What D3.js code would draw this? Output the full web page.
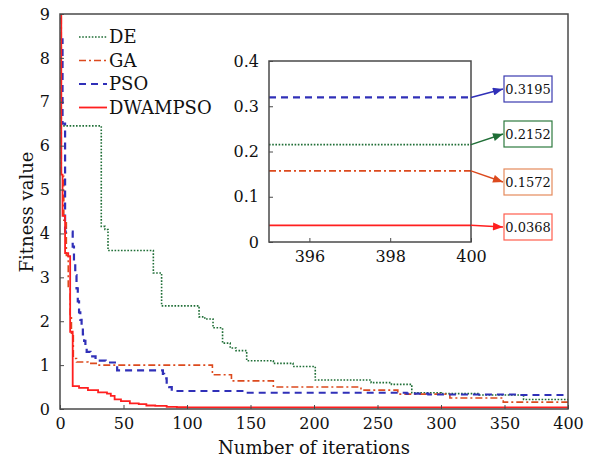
<!DOCTYPE html>
<html>
<head>
<meta charset="utf-8">
<script src="https://cdn.jsdelivr.net/npm/d3@7"></script>
<style>
  body { margin: 0; background: #fff; }
  text { font-family: "DejaVu Serif", serif; fill: #111; }
</style>
</head>
<body>
<div id="chart"></div>
<script>
// series: [iteration, fitness value], drawn as steps
var deData = [[0,6.45],[32.5,4.16],[35.4,4.09],[37.8,3.61],[73.5,3.1],[80,2.35],[109.5,2.1],[114,2.05],[120.5,1.85],[128,1.5],[134,1.39],[138.6,1.33],[147,1.1],[168,1.04],[183.5,0.97],[201,0.66],[245,0.6],[261,0.56],[277,0.37],[300,0.35],[330,0.32],[365,0.2152],[400,0.2152]];
var gaData = [[0,8.9],[1,5.3],[3,4.3],[5,3.5],[6.5,2.76],[8,2.1],[9,1.7],[10.5,1.15],[13,1.07],[22,1.04],[30,1.0],[120,0.78],[135,0.64],[168,0.5],[237,0.43],[266,0.34],[307,0.25],[349,0.1572],[400,0.1572]];
var psoData = [[0,8.42],[2,6.5],[4,4.04],[10,3.7],[11,3.35],[12,3.05],[13,2.75],[14,2.45],[15,2.2],[16,2.03],[17,1.85],[18,1.7],[19,1.55],[20,1.42],[21,1.3],[24,1.2],[28,1.1],[36,1.06],[45,0.88],[81,0.8],[82,0.7],[84,0.6],[86,0.5],[88,0.41],[146,0.37],[273,0.35],[290,0.33],[360,0.3195],[400,0.3195]];
var dwData = [[0,9],[1,5.34],[2,4.4],[4,3.55],[6.5,3.48],[8,1.76],[10,0.52],[15,0.48],[22,0.43],[30,0.38],[37,0.35],[40,0.3],[43,0.22],[48,0.18],[55,0.13],[62,0.11],[68,0.08],[75,0.07],[84,0.05],[92,0.04],[100,0.0368],[400,0.0368]];

var seriesNames = ["DE", "GA", "PSO", "DWAMPSO"];
var finalValues = [0.2152, 0.1572, 0.3195, 0.0368];

var iterTicks = [0, 50, 100, 150, 200, 250, 300, 350, 400];
var fitTicks = [0, 1, 2, 3, 4, 5, 6, 7, 8, 9];
var insetIterTicks = [396, 398, 400];
var insetFitTicks = [0, 0.1, 0.2, 0.3, 0.4];

var styles = [
  { color: "#1f6e36", dash: "1.6,1.6", w: 1.6 },
  { color: "#dc4a1e", dash: "7,3,2,3", w: 1.6 },
  { color: "#3030b8", dash: "7,5", w: 2.2 },
  { color: "#ff1f1f", dash: null, w: 1.8 }
];
var boxStroke = ["#2d7a3f", "#e58a5c", "#3a3ab0", "#ff5e4e"];
var boxTextColor = ["#2d7a3f", "#d9532a", "#3a3ab0", "#ff3b2e"];

var W = 595, H = 461;
var svg = d3.select("#chart").append("svg").attr("width", W).attr("height", H);

var x = d3.scaleLinear().domain([0, 400]).range([60, 568]);
var y = d3.scaleLinear().domain([0, 9]).range([409, 14]);

var defs = svg.append("defs");
defs.append("clipPath").attr("id", "mainclip").append("rect")
  .attr("x", 60).attr("y", 14).attr("width", 508).attr("height", 395);

var allData = [deData, gaData, psoData, dwData];
var line = d3.line().x(function(d){ return x(d[0]); }).y(function(d){ return y(d[1]); }).curve(d3.curveStepAfter);

var plot = svg.append("g").attr("clip-path", "url(#mainclip)");
allData.forEach(function(data, i){
  plot.append("path").datum(data)
    .attr("d", line)
    .attr("fill", "none")
    .attr("stroke", styles[i].color)
    .attr("stroke-width", styles[i].w)
    .attr("stroke-dasharray", styles[i].dash);
});

// axes
var axisColor = "#4a4a4a";
var xAxis = d3.axisBottom(x).tickValues(iterTicks).tickSizeInner(-4).tickSizeOuter(0).tickPadding(9);
var yAxis = d3.axisLeft(y).tickValues(fitTicks).tickSizeInner(-4).tickSizeOuter(0).tickPadding(10);
var gx = svg.append("g").attr("transform", "translate(0,409)").call(xAxis);
var gy = svg.append("g").attr("transform", "translate(60,0)").call(yAxis);
[gx, gy].forEach(function(g){
  g.select(".domain").remove();
  g.selectAll("line").attr("stroke", axisColor);
  g.selectAll("text").style("font-family", "DejaVu Serif").style("font-size", "16px").attr("fill", "#111");
});
svg.append("rect").attr("x", 60).attr("y", 14).attr("width", 508).attr("height", 395)
  .attr("fill", "none").attr("stroke", axisColor).attr("stroke-width", 1.5);

svg.append("text").attr("x", 314).attr("y", 454).attr("text-anchor", "middle")
  .style("font-size", "18px").text("Number of iterations");
svg.append("text").attr("transform", "translate(33,212) rotate(-90)").attr("text-anchor", "middle")
  .style("font-size", "18px").text("Fitness value");

// legend
var legend = svg.append("g");
seriesNames.forEach(function(name, i){
  var ly = 37 + i * 23.5;
  legend.append("line").attr("x1", 79).attr("x2", 107).attr("y1", ly).attr("y2", ly)
    .attr("stroke", styles[i].color).attr("stroke-width", styles[i].w)
    .attr("stroke-dasharray", styles[i].dash);
  legend.append("text").attr("x", 109).attr("y", ly + 6).style("font-size", "18px").text(name);
});

// inset
var ix = d3.scaleLinear().domain([395, 400]).range([269, 471]);
var iy = d3.scaleLinear().domain([0, 0.4]).range([242, 61]);
var inset = svg.append("g");
inset.append("rect").attr("x", 269).attr("y", 61).attr("width", 202).attr("height", 181).attr("fill", "#fff");
finalValues.forEach(function(v, i){
  inset.append("line")
    .attr("x1", ix(395)).attr("x2", ix(400)).attr("y1", iy(v)).attr("y2", iy(v))
    .attr("stroke", styles[i].color).attr("stroke-width", styles[i].w)
    .attr("stroke-dasharray", styles[i].dash);
});
var ixAxis = d3.axisBottom(ix).tickValues(insetIterTicks).tickFormat(d3.format("d")).tickSizeInner(-4).tickSizeOuter(0).tickPadding(9);
var iyAxis = d3.axisLeft(iy).tickValues(insetFitTicks).tickFormat(d3.format("")).tickSizeInner(-4).tickSizeOuter(0).tickPadding(10);
var gix = inset.append("g").attr("transform", "translate(0,242)").call(ixAxis);
var giy = inset.append("g").attr("transform", "translate(269,0)").call(iyAxis);
[gix, giy].forEach(function(g){
  g.select(".domain").remove();
  g.selectAll("line").attr("stroke", axisColor);
  g.selectAll("text").style("font-family", "DejaVu Serif").style("font-size", "16px").attr("fill", "#111");
});
inset.append("rect").attr("x", 269).attr("y", 61).attr("width", 202).attr("height", 181)
  .attr("fill", "none").attr("stroke", axisColor).attr("stroke-width", 1.5);

// value call-outs with arrows
var boxY = [134, 182, 89, 227];
finalValues.forEach(function(v, i){
  var c = styles[i].color;
  var m = defs.append("marker").attr("id", "arr" + i)
    .attr("viewBox", "0 0 10 8").attr("refX", 10).attr("refY", 4)
    .attr("markerWidth", 11).attr("markerHeight", 8).attr("markerUnits", "userSpaceOnUse")
    .attr("orient", "auto");
  m.append("path").attr("d", "M0,0L10,4L0,8z").attr("fill", c);
  svg.append("line").attr("x1", ix(400)).attr("y1", iy(v)).attr("x2", 503).attr("y2", boxY[i])
    .attr("stroke", c).attr("stroke-width", 1.5).attr("marker-end", "url(#arr" + i + ")");
  svg.append("rect").attr("x", 504).attr("y", boxY[i] - 13).attr("width", 48).attr("height", 26)
    .attr("fill", "#fff").attr("stroke", boxStroke[i]).attr("stroke-width", 1.2);
  svg.append("text").attr("x", 528).attr("y", boxY[i] + 5).attr("text-anchor", "middle")
    .style("font-size", "13px").attr("fill", boxTextColor[i]).text(v.toFixed(4));
});
</script>
</body>
</html>
